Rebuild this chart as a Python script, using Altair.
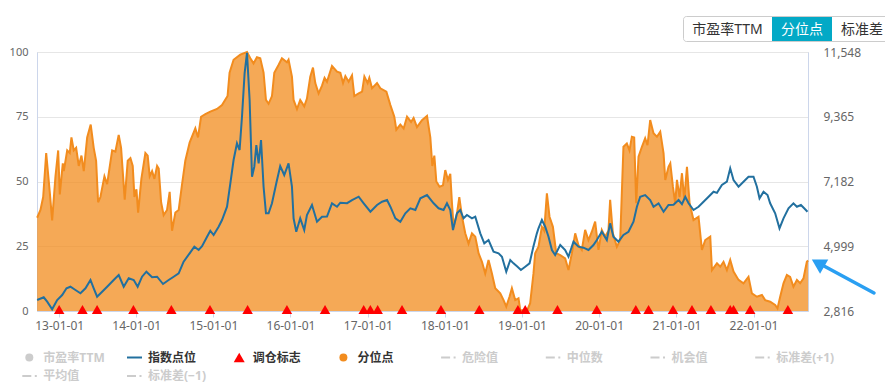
import altair as alt
import pandas as pd

# ---- data (decimal year, value) ----
pct_points = [
    (2012.715, 36), (2012.758, 39), (2012.793, 44), (2012.832, 61), (2012.878, 46), (2012.909, 35),
    (2012.952, 52), (2012.987, 62), (2013.008, 45), (2013.047, 57), (2013.060, 54), (2013.104, 62),
    (2013.137, 61), (2013.159, 67), (2013.189, 62), (2013.220, 63), (2013.254, 56), (2013.289, 60),
    (2013.319, 54), (2013.363, 67), (2013.409, 72), (2013.448, 63), (2013.479, 58), (2013.505, 42),
    (2013.535, 44), (2013.587, 52), (2013.622, 49), (2013.687, 62), (2013.729, 61.5), (2013.772, 68),
    (2013.803, 63), (2013.850, 43), (2013.889, 58), (2013.924, 59), (2013.954, 56), (2013.976, 44),
    (2014.002, 47), (2014.024, 38), (2014.066, 51), (2014.118, 61), (2014.148, 60), (2014.174, 52),
    (2014.205, 54), (2014.235, 51), (2014.270, 56), (2014.291, 55), (2014.322, 42), (2014.355, 37),
    (2014.399, 39), (2014.433, 46), (2014.464, 31), (2014.507, 38), (2014.550, 39), (2014.594, 49),
    (2014.636, 58), (2014.692, 65), (2014.766, 70.5), (2014.801, 67), (2014.840, 75), (2014.896, 76),
    (2014.960, 77), (2015.047, 78), (2015.112, 79.5), (2015.184, 83), (2015.210, 92), (2015.262, 97),
    (2015.349, 99), (2015.436, 100), (2015.479, 97.6), (2015.521, 95.6), (2015.565, 98), (2015.608, 97.6),
    (2015.651, 92), (2015.682, 81.5), (2015.716, 80), (2015.760, 83), (2015.790, 92), (2015.845, 95),
    (2015.889, 97.6), (2015.954, 96), (2015.975, 97), (2016.019, 90.5), (2016.040, 81.5), (2016.084, 78),
    (2016.126, 81.5), (2016.178, 79), (2016.213, 82), (2016.256, 90.5), (2016.291, 94), (2016.321, 88),
    (2016.364, 84), (2016.408, 87), (2016.441, 90), (2016.472, 88.5), (2016.537, 94.6), (2016.602, 92.4),
    (2016.645, 92), (2016.680, 88), (2016.710, 90.7), (2016.752, 88.5), (2016.796, 91), (2016.826, 83),
    (2016.882, 84), (2016.926, 84.7), (2016.956, 90.5), (2016.998, 88), (2017.020, 90), (2017.055, 86),
    (2017.120, 88), (2017.163, 86), (2017.241, 84.7), (2017.293, 79.5), (2017.344, 75), (2017.370, 70),
    (2017.422, 72), (2017.465, 70.5), (2017.509, 75), (2017.561, 73), (2017.594, 74.5), (2017.638, 71),
    (2017.703, 73.7), (2017.768, 75.3), (2017.811, 67), (2017.837, 56), (2017.863, 60), (2017.889, 50),
    (2017.931, 48), (2017.975, 48.5), (2018.005, 54.4), (2018.040, 50.6), (2018.070, 53), (2018.092, 41.6),
    (2018.113, 32.5), (2018.157, 37.7), (2018.187, 44), (2018.222, 36.4), (2018.264, 30), (2018.307, 26),
    (2018.351, 30), (2018.394, 28.7), (2018.437, 22.3), (2018.481, 19), (2018.523, 14.5), (2018.566, 19.7),
    (2018.610, 14.5), (2018.653, 8.8), (2018.718, 6.8), (2018.761, 4.2), (2018.796, 1.7), (2018.838, 5.5),
    (2018.869, 8.8), (2018.912, 4.2), (2018.955, 4.9), (2018.977, 0.4), (2019.064, 0), (2019.106, 3),
    (2019.149, 14.5), (2019.171, 22.3), (2019.214, 24.8), (2019.258, 32.5), (2019.288, 31), (2019.323, 45.4),
    (2019.357, 36.4), (2019.401, 32.5), (2019.444, 22.3), (2019.496, 21.6), (2019.560, 20.3), (2019.603, 15.8),
    (2019.647, 22.3), (2019.690, 30), (2019.732, 25.5), (2019.776, 23.6), (2019.819, 31.3), (2019.862, 27.4),
    (2019.906, 30.6), (2019.949, 34.5), (2019.992, 23.6), (2020.035, 31.3), (2020.078, 28.7), (2020.121, 31),
    (2020.143, 42.9), (2020.178, 30), (2020.230, 24.8), (2020.273, 27.4), (2020.315, 63.4), (2020.359, 64.7),
    (2020.393, 62), (2020.424, 67.3), (2020.454, 67), (2020.480, 41.6), (2020.510, 59.6), (2020.554, 63.4),
    (2020.596, 66.7), (2020.626, 64), (2020.661, 73.7), (2020.704, 68.6), (2020.748, 67.3), (2020.791, 69.2),
    (2020.834, 60.9), (2020.856, 50.6), (2020.898, 55.7), (2020.921, 57), (2020.955, 48), (2020.985, 41.6),
    (2021.007, 50.6), (2021.041, 44), (2021.072, 53.2), (2021.102, 42.9), (2021.137, 55.7), (2021.171, 41.6),
    (2021.222, 35.1), (2021.287, 36.4), (2021.331, 23.6), (2021.374, 27.4), (2021.439, 28.7), (2021.461, 15.8),
    (2021.526, 18.4), (2021.569, 17.1), (2021.611, 19), (2021.655, 15.8), (2021.698, 19.7), (2021.741, 15.2),
    (2021.806, 12), (2021.870, 10.7), (2021.935, 13.2), (2021.979, 6.8), (2022.044, 5.5), (2022.109, 6.2),
    (2022.151, 4.2), (2022.216, 3.6), (2022.281, 2.3), (2022.311, 1), (2022.346, 5.5), (2022.389, 10.7),
    (2022.433, 13.9), (2022.475, 13.2), (2022.518, 9.4), (2022.563, 12), (2022.605, 10.7), (2022.648, 12.6),
    (2022.692, 19), (2022.708, 19.5),
]

idx_points = [
    (2012.715, 3187), (2012.800, 3278), (2012.845, 3130), (2012.909, 2873), (2012.974, 3187), (2013.039, 3355),
    (2013.095, 3581), (2013.146, 3635), (2013.211, 3524), (2013.276, 3413), (2013.341, 3581), (2013.406, 3861),
    (2013.448, 3581), (2013.492, 3298), (2013.557, 3467), (2013.622, 3635), (2013.707, 3861), (2013.772, 4030),
    (2013.837, 3635), (2013.902, 3918), (2013.967, 3861), (2014.018, 3635), (2014.075, 3972), (2014.131, 4141),
    (2014.205, 3952), (2014.270, 3972), (2014.347, 3726), (2014.420, 3861), (2014.485, 3972), (2014.550, 4087),
    (2014.614, 4478), (2014.692, 4761), (2014.753, 4984), (2014.809, 4873), (2014.853, 5000), (2014.918, 5321),
    (2014.960, 5523), (2015.003, 5378), (2015.068, 5658), (2015.112, 5884), (2015.177, 6332), (2015.220, 7121),
    (2015.262, 7906), (2015.306, 8469), (2015.340, 8243), (2015.371, 9366), (2015.405, 10829), (2015.436, 11523),
    (2015.470, 9929), (2015.501, 7343), (2015.531, 7681), (2015.557, 8412), (2015.587, 7795), (2015.618, 8580),
    (2015.651, 7006), (2015.682, 6110), (2015.716, 6110), (2015.760, 6447), (2015.816, 7121), (2015.867, 7700),
    (2015.919, 7401), (2015.975, 7795), (2016.019, 7006), (2016.040, 5941), (2016.075, 5489), (2016.126, 5941),
    (2016.178, 5547), (2016.213, 6052), (2016.278, 6389), (2016.343, 5826), (2016.408, 5995), (2016.472, 6000),
    (2016.537, 6447), (2016.602, 6332), (2016.645, 6467), (2016.732, 6450), (2016.796, 6557), (2016.882, 6669),
    (2016.947, 6447), (2017.034, 6163), (2017.120, 6389), (2017.185, 6500), (2017.250, 6557), (2017.293, 6332),
    (2017.358, 5941), (2017.422, 5826), (2017.487, 6110), (2017.552, 6278), (2017.617, 6221), (2017.682, 6615),
    (2017.768, 6726), (2017.854, 6447), (2017.918, 6278), (2017.983, 6221), (2018.027, 6447), (2018.070, 6221),
    (2018.105, 5547), (2018.157, 6110), (2018.199, 6221), (2018.242, 5941), (2018.286, 6052), (2018.351, 5941),
    (2018.394, 5995), (2018.459, 5435), (2018.511, 5098), (2018.566, 5209), (2018.631, 4815), (2018.696, 4761),
    (2018.740, 4646), (2018.796, 4141), (2018.848, 4535), (2018.890, 4422), (2018.942, 4310), (2018.986, 4198),
    (2019.042, 4310), (2019.098, 4422), (2019.149, 5000), (2019.193, 5435), (2019.214, 5604), (2019.258, 5884),
    (2019.301, 5658), (2019.344, 5321), (2019.388, 4873), (2019.430, 4704), (2019.496, 5041), (2019.560, 4873),
    (2019.603, 4646), (2019.668, 5152), (2019.732, 4984), (2019.797, 4950), (2019.862, 4873), (2019.927, 5041),
    (2019.971, 5209), (2020.035, 5489), (2020.100, 5209), (2020.143, 5772), (2020.185, 5321), (2020.250, 5152),
    (2020.315, 5378), (2020.380, 5489), (2020.445, 5826), (2020.489, 6332), (2020.532, 6669), (2020.596, 6726),
    (2020.661, 6557), (2020.704, 6332), (2020.769, 6447), (2020.834, 6163), (2020.898, 6389), (2020.963, 6400),
    (2021.028, 6557), (2021.072, 6420), (2021.115, 6669), (2021.158, 6447), (2021.222, 6221), (2021.287, 6332),
    (2021.352, 6500), (2021.417, 6669), (2021.482, 6837), (2021.526, 6800), (2021.590, 7063), (2021.655, 7175),
    (2021.698, 7626), (2021.741, 7232), (2021.806, 7006), (2021.870, 7175), (2021.935, 7343), (2022.000, 7343),
    (2022.044, 7006), (2022.078, 6615), (2022.130, 6837), (2022.182, 6726), (2022.216, 6447), (2022.281, 6110),
    (2022.337, 5604), (2022.389, 5941), (2022.454, 6278), (2022.518, 6447), (2022.563, 6330), (2022.615, 6389),
    (2022.657, 6278), (2022.700, 6163),
]

trade_dates = [
    2013.000, 2013.302, 2013.492, 2013.963, 2014.455, 2014.956, 2015.444, 2015.954, 2016.447, 2016.947,
    2017.033, 2017.128, 2017.444, 2017.949, 2018.446, 2018.947, 2019.042, 2019.460, 2019.970, 2020.475,
    2020.640, 2020.956, 2021.202, 2021.448, 2021.698, 2021.741, 2021.957, 2022.446,
]

left_ticks = [0, 25, 50, 75, 100]
right_ticks = [2816, 4999, 7182, 9365, 11548]
tick_years = list(range(2013, 2023))

legend_names = ["市盈率TTM", "指数点位", "调仓标志", "分位点", "危险值", "中位数", "机会值", "标准差(+1)",
                "平均值", "标准差(−1)"]
legend_kinds = ["circle", "line", "triangle", "circle", "dashdot", "dashdot", "dashdot", "dashdot",
                "dashdot", "dashdot"]
legend_active = [False, True, True, True, False, False, False, False, False, False]
button_labels = ["市盈率TTM", "分位点", "标准差"]

# ---- styles ----
FONT = "'Noto Sans', 'Noto Sans CJK SC', sans-serif"
ORANGE = "#f28c1e"
BLUE = "#22709f"
RED = "#ff0000"
GREY = "#cccccc"
TEAL = "#03a9c6"
AXIS_LINE = "#ccd6eb"
W, H = 771, 259


def ts(t):
    y = int(t)
    a = pd.Timestamp(year=y, month=1, day=1)
    b = pd.Timestamp(year=y + 1, month=1, day=1)
    return (a + (b - a) * (t - y)).strftime("%Y-%m-%dT%H:%M:%S")


pct_df = pd.DataFrame({"date": [ts(t) for t, _ in pct_points], "pct": [v for _, v in pct_points]})
idx_df = pd.DataFrame({"date": [ts(t) for t, _ in idx_points], "idx": [v for _, v in idx_points]})
trade_df = pd.DataFrame({"date": [ts(t) for t in trade_dates]})

x_enc = alt.X(
    "date:T",
    title=None,
    scale=alt.Scale(domain=[alt.DateTime(year=2012, month=9, date=18),
                            alt.DateTime(year=2022, month=9, date=16)]),
    axis=alt.Axis(values=[alt.DateTime(year=y, month=1, date=1) for y in tick_years],
                  format="%y-%m-%d", grid=False, labelColor="#666666", labelFontSize=12,
                  labelFont=FONT, tickColor=AXIS_LINE, tickSize=6, labelPadding=3,
                  domainColor=AXIS_LINE, labelFlush=False, labelOverlap=False),
)

pct_scale = alt.Scale(domain=[0, 100], nice=False, zero=True)
area = alt.Chart(pct_df).mark_area(color=ORANGE, opacity=0.75, interpolate="linear").encode(
    x=x_enc,
    y=alt.Y("pct:Q", scale=pct_scale, title=None,
            axis=alt.Axis(orient="left", values=left_ticks, grid=True, gridColor="#e6e6e6",
                          ticks=False, domainColor=AXIS_LINE, labelPadding=9,
                          labelColor="#666666", labelFontSize=11, labelFont=FONT)),
)
pct_line = alt.Chart(pct_df).mark_line(color=ORANGE, strokeWidth=2).encode(
    x=x_enc,
    y=alt.Y("pct:Q", scale=pct_scale, axis=None),
)
idx_line = alt.Chart(idx_df).mark_line(color=BLUE, strokeWidth=2).encode(
    x=x_enc,
    y=alt.Y("idx:Q", title=None,
            scale=alt.Scale(domain=[right_ticks[0], right_ticks[-1]], nice=False, zero=False),
            axis=alt.Axis(orient="right", values=right_ticks, format=",.0f", grid=False, ticks=False,
                          domainColor=AXIS_LINE, labelPadding=15, labelColor="#666666",
                          labelFontSize=12, labelFont=FONT)),
)
trades = alt.Chart(trade_df).mark_point(shape="triangle-up", filled=True, color=RED, size=110,
                                        opacity=1).encode(x=x_enc, y=alt.value(H - 1.5))

one = pd.DataFrame({"k": [0]})
deco = []

# legend (two rows, 8 columns)
for i, name in enumerate(legend_names):
    col, row = i % 8, i // 8
    lx = -14.7 + col * 104.7
    ly = 305.5 + row * 18.5
    c_on = {"circle": ORANGE, "line": BLUE, "triangle": RED}.get(legend_kinds[i], GREY)
    color = c_on if legend_active[i] else GREY
    kind = legend_kinds[i]
    if kind == "circle":
        deco.append(alt.Chart(one).mark_point(shape="circle", filled=True, color=color, size=64,
                                              opacity=1).encode(x=alt.value(lx + 7), y=alt.value(ly)))
    elif kind == "triangle":
        deco.append(alt.Chart(one).mark_point(shape="triangle-up", filled=True, color=color, size=121,
                                              opacity=1).encode(x=alt.value(lx + 7.5), y=alt.value(ly)))
    elif kind == "line":
        deco.append(alt.Chart(one).mark_rule(color=color, strokeWidth=2).encode(
            x=alt.value(lx), x2=alt.value(lx + 15), y=alt.value(ly)))
    else:
        deco.append(alt.Chart(one).mark_rule(color=color, strokeWidth=2, strokeDash=[9, 3.5, 2, 10]).encode(
            x=alt.value(lx), x2=alt.value(lx + 15), y=alt.value(ly)))
    deco.append(alt.Chart(one).mark_text(align="left", baseline="middle", fontSize=12, fontWeight="bold",
                                         font=FONT, color="#333333" if legend_active[i] else GREY).encode(
        x=alt.value(lx + 21), y=alt.value(ly), text=alt.value(name)))

# button group (top right)
deco.append(alt.Chart(one).mark_rect(fill="white", stroke="#cccccc", strokeWidth=1, cornerRadius=3).encode(
    x=alt.value(646.5), x2=alt.value(860), y=alt.value(-35.5), y2=alt.value(-10.5)))
deco.append(alt.Chart(one).mark_rect(fill=TEAL).encode(
    x=alt.value(735), x2=alt.value(795), y=alt.value(-35), y2=alt.value(-11)))
for lab, cx, col in zip(button_labels, [690.5, 765, 825], ["#333333", "#ffffff", "#333333"]):
    deco.append(alt.Chart(one).mark_text(align="center", baseline="middle", fontSize=14, font=FONT,
                                         color=col).encode(x=alt.value(cx), y=alt.value(-22.5),
                                                           text=alt.value(lab)))

# arrow annotation pointing at the latest value
deco.append(alt.Chart(one).mark_rule(color="#2a9ff2", strokeWidth=3.5, strokeCap="round").encode(
    x=alt.value(837), y=alt.value(241), x2=alt.value(787), y2=alt.value(214)))
deco.append(alt.Chart(one).mark_point(shape="triangle-up", filled=True, color="#2a9ff2", size=270,
                                      opacity=1, angle=300).encode(x=alt.value(781), y=alt.value(211)))

chart = alt.layer(area, pct_line, idx_line, trades, *deco).resolve_scale(y="independent").properties(
    width=W, height=H,
    padding={"left": 29, "top": 44, "right": 77, "bottom": 76},
    autosize=alt.AutoSizeParams(type="none"),
).configure_view(stroke=None).configure(background="white")

chart.save("out.html", embed_options={"renderer": "svg", "actions": False})
